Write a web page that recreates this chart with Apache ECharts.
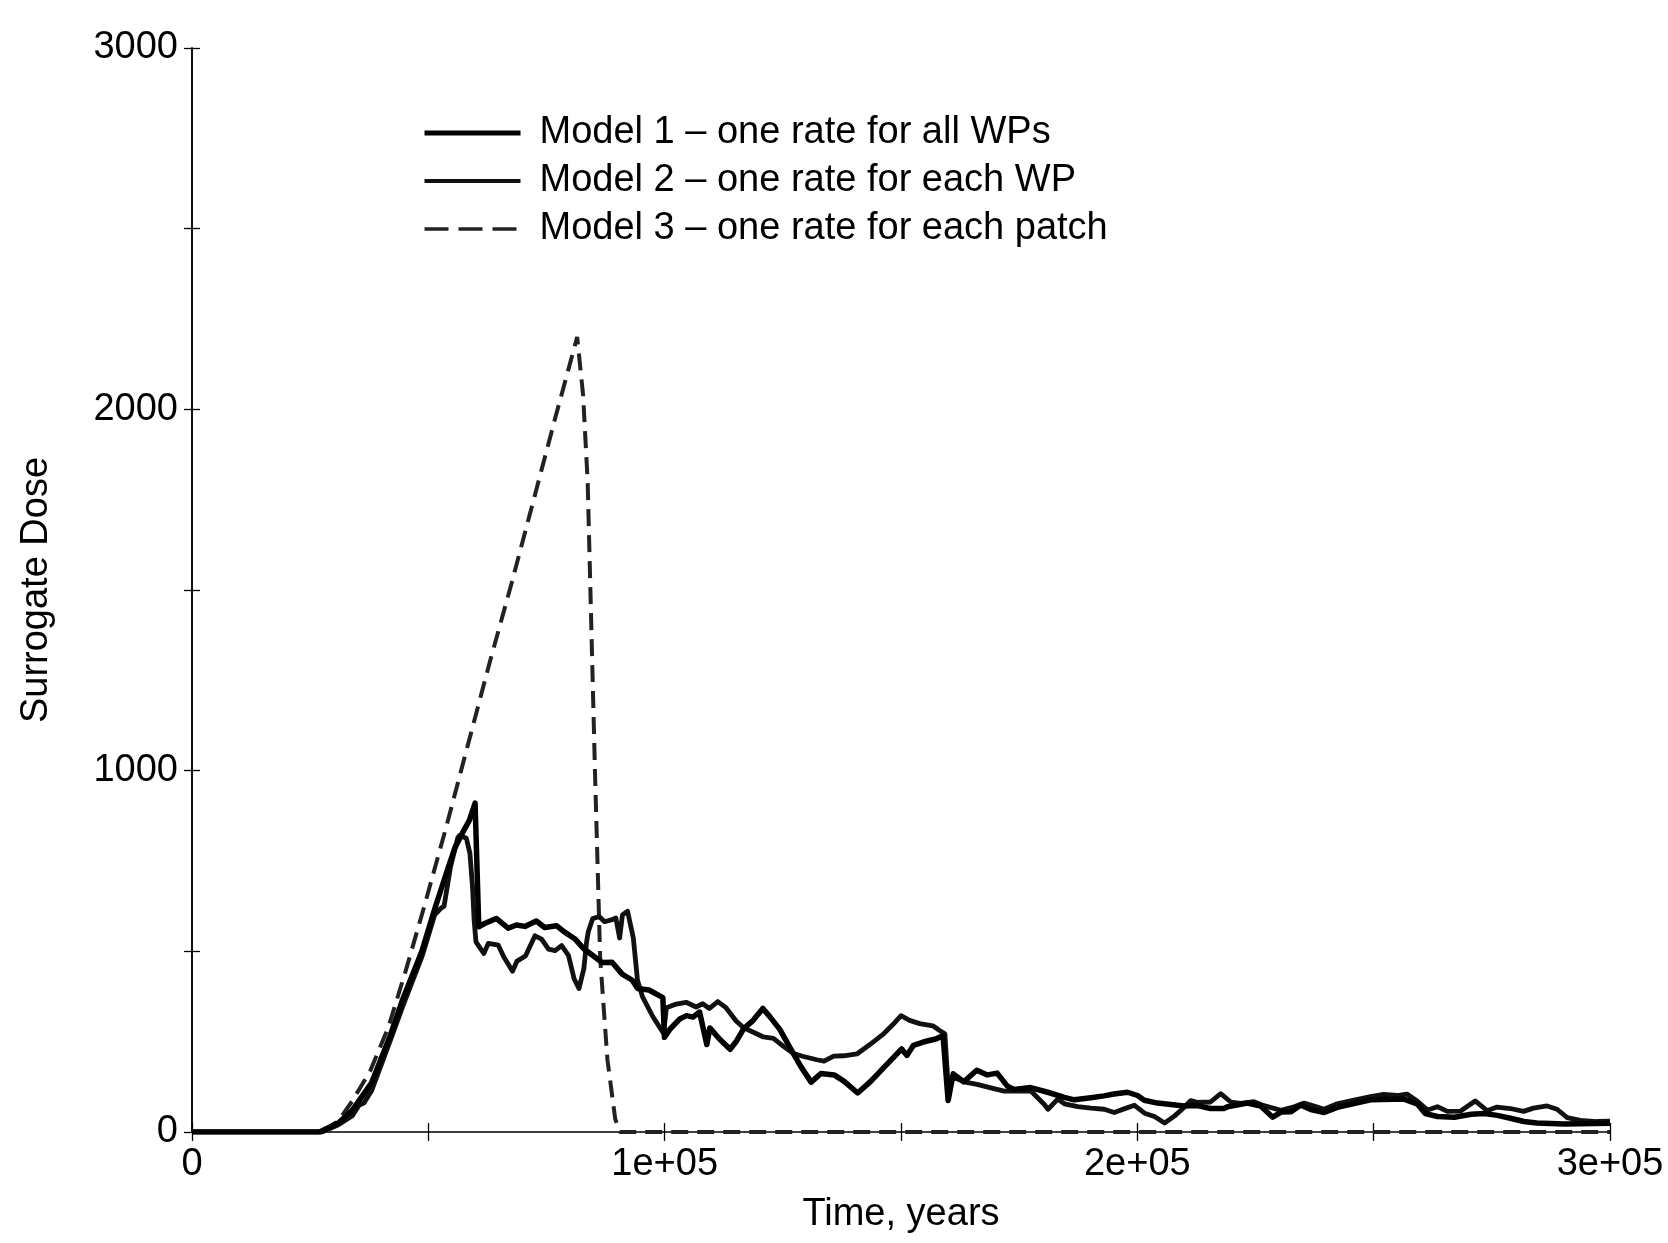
<!DOCTYPE html>
<html>
<head>
<meta charset="utf-8">
<script src="https://cdn.jsdelivr.net/npm/echarts@6/dist/echarts.min.js"></script>
<style>
html,body{margin:0;padding:0;background:#fff;}
#chart{width:1668px;height:1243px;}
</style>
</head>
<body>
<div id="chart"></div>
<script>
// ---- data (time in years, surrogate dose) ----
const seriesNames = [
  'Model 1 \u2013 one rate for all WPs',
  'Model 2 \u2013 one rate for each WP',
  'Model 3 \u2013 one rate for each patch'
];

const model1 = [
  [0,0],[25000,0],[27000,0],[30960,25],[33910,60],[37990,136],[41980,268],[44630,369],
  [48630,500],[51300,615],[53980,723],[55580,785],[57310,830],[58660,862],[59890,910],
  [60670,568],[61910,577],[64380,591],[66880,564],[68610,573],[70420,569],[72840,584],
  [74620,566],[77110,571],[78840,553],[80970,535],[82810,508],[86770,469],[88870,470],
  [91020,437],[93150,420],[94280,397],[96690,393],[99620,372],[99950,262],
  [101160,285],[103210,313],[104600,322],[106010,318],[107390,332],[108920,242],[109550,288],
  [111700,256],[113850,229],[115210,252],[116660,285],[118720,309],[120770,342],[122200,320],
  [124360,284],[126540,233],[128720,183],[130990,138],[133050,162],[135860,158],[137980,140],
  [140830,108],[143580,140],[147010,187],[150140,230],[151270,212],[152630,240],[154710,249],
  [157500,258],[158890,267],[159970,87],[161050,161],[163280,139],[166030,171],[168260,158],
  [170350,163],[172500,127],[173920,118],[177410,123],[181030,110],[184550,96],[186660,89],
  [190150,95],[192950,100],[195040,105],[197930,110],[200040,101],[201460,88],[204280,80],
  [207080,76],[209890,72],[212690,73],[215500,65],[218300,65],[219090,70],[223280,80],
  [226090,72],[228640,41],[230410,55],[232510,56],[234580,75],[236700,62],[239520,54],
  [242290,68],[249360,89],[256460,91],[259280,77],[260920,51],[263530,43],[267040,41],
  [270620,49],[273420,51],[276130,46],[278940,38],[281760,29],[284560,25],[290270,22],[300000,24]
];

const model2 = [
  [0,0],[25000,0],[27500,0],[30970,20],[33930,45],[35380,75],[36380,80],[38020,115],[42000,255],
  [44660,350],[48650,485],[51320,600],[52740,620],[53330,625],[54670,732],[56240,815],[56630,821],
  [58040,813],[58800,771],[59350,678],[59690,586],[60080,526],[61730,494],[62690,522],[64800,517],
  [65950,485],[67810,445],[68770,473],[70550,487],[72560,543],[73970,534],[75420,506],[76820,502],
  [78200,516],[79640,489],[80840,424],[81880,397],[82900,452],[83480,526],[83840,554],[84780,591],
  [86180,596],[87300,582],[88690,587],[89680,592],[90470,537],[91070,601],[92150,611],[93370,537],
  [94250,420],[95320,374],[97510,319],[99780,273],[100370,344],[102450,354],[104540,359],
  [106660,346],[108050,355],[109470,342],[111240,361],[112970,344],[115120,307],[116650,289],
  [118770,276],[120890,263],[123000,259],[125130,237],[127260,217],[129380,209],[132190,200],
  [133700,196],[135770,210],[137870,211],[140670,216],[143420,242],[146180,270],[148340,298],
  [150000,322],[151820,309],[153940,300],[156740,294],[158160,281],[159280,272],[160010,120],
  [161060,152],[163280,139],[166100,132],[169010,122],[171820,113],[177420,114],[180280,77],
  [181100,63],[183160,91],[184580,78],[187390,70],[190200,66],[193000,63],[195120,54],[197200,64],
  [199390,74],[201520,52],[203630,43],[205760,25],[207830,44],[209890,68],[211270,87],[212670,82],
  [215470,83],[217640,106],[219770,83],[221880,79],[224670,84],[226790,73],[230410,60],[233190,70],
  [235280,80],[237390,72],[239500,63],[242280,78],[245860,88],[249350,98],[252140,104],[254940,101],
  [257040,105],[259270,85],[261410,61],[263490,70],[265610,57],[268410,58],[271470,86],[274010,59],
  [276090,69],[278900,65],[281710,57],[283800,66],[286690,72],[288800,63],[290940,40],[293750,32],
  [297260,29],[300000,30]
];

const model3 = [
  [0,0],[25000,0],[27990,5],[30950,30],[33870,85],[37740,170],[41550,290],[45300,450],
  [49040,620],[53700,840],[58340,1070],[62990,1300],[67640,1520],[72290,1750],[76930,1980],
  [81490,2200],[82740,2040],[83710,1800],[85250,1000],[86360,480],[87890,200],[89540,36],
  [90500,0],[300000,0]
];

const xTickValues = [0, 100000, 200000, 300000];
const xTickTexts = ['0', '1e+05', '2e+05', '3e+05'];
const yTickValues = [0, 1000, 2000, 3000];
const axisTitles = { x: 'Time, years', y: 'Surrogate Dose' };

// ---- chart ----
const FONT = '"Liberation Sans", Arial, Helvetica, sans-serif';
const chart = echarts.init(document.getElementById('chart'), null, { renderer: 'canvas' });

const xFmt = v => { const i = xTickValues.indexOf(v); return i >= 0 ? xTickTexts[i] : ''; };
const yFmt = v => (yTickValues.indexOf(v) >= 0 ? String(v) : '');

const axisLineStyle = { color: '#000', width: 1.5 };
const tickStyle = { color: '#000', width: 1.3 };
const widths = [5.5, 4.8, 4];
const colors = ['#000', '#111', '#222'];

chart.setOption({
  animation: false,
  backgroundColor: '#fff',
  textStyle: { fontFamily: FONT, color: '#000' },
  grid: { left: 192, right: 58, top: 48, bottom: 111, containLabel: false },
  legend: {
    orient: 'vertical',
    left: 417,
    top: 105,
    itemWidth: 96,
    itemHeight: 14,
    itemGap: 2,
    itemStyle: { opacity: 0 },
    textStyle: { fontSize: 38, color: '#000', fontFamily: FONT, lineHeight: 46, padding: [0, 0, 0, 14] },
    data: [
      { name: seriesNames[0], lineStyle: { width: 5, color: colors[0] } },
      { name: seriesNames[1], lineStyle: { width: 4, color: colors[1] } },
      { name: seriesNames[2], lineStyle: { width: 3.5, color: colors[2], type: [24, 10] } }
    ]
  },
  xAxis: [
    {
      type: 'value', min: 0, max: 300000, interval: 50000,
      name: axisTitles.x, nameLocation: 'middle', nameGap: 64,
      nameTextStyle: { fontSize: 38, color: '#000', fontFamily: FONT },
      axisLine: { show: true, lineStyle: axisLineStyle },
      axisTick: { show: true, inside: true, length: 9, lineStyle: tickStyle },
      axisLabel: { formatter: xFmt, fontSize: 38, color: '#000', margin: 14, fontFamily: FONT, showMaxLabel: true, showMinLabel: true },
      splitLine: { show: false }
    },
    {
      type: 'value', position: 'top', min: 0, max: 300000, interval: 50000,
      axisLine: { show: false },
      axisTick: { show: true, inside: true, length: 9, lineStyle: tickStyle },
      axisLabel: { show: false },
      splitLine: { show: false }
    }
  ],
  yAxis: [
    {
      type: 'value', min: 0, max: 3000, interval: 500,
      name: axisTitles.y, nameLocation: 'middle', nameGap: 136, nameRotate: 90,
      nameTextStyle: { fontSize: 38, color: '#000', fontFamily: FONT },
      axisLine: { show: true, lineStyle: axisLineStyle },
      axisTick: { show: true, inside: true, length: 8, lineStyle: tickStyle },
      axisLabel: { formatter: yFmt, fontSize: 38, color: '#000', margin: 14, fontFamily: FONT },
      splitLine: { show: false }
    },
    {
      type: 'value', position: 'right', min: 0, max: 3000, interval: 500,
      axisLine: { show: true, lineStyle: axisLineStyle },
      axisTick: { show: true, inside: true, length: 8, lineStyle: tickStyle },
      axisLabel: { show: false },
      splitLine: { show: false }
    }
  ],
  series: [
    {
      name: seriesNames[0], type: 'line', data: model1, xAxisIndex: 0, yAxisIndex: 0,
      symbol: 'none', showSymbol: false, z: 4,
      lineStyle: { color: colors[0], width: widths[0], join: 'round' },
      itemStyle: { color: colors[0] }
    },
    {
      name: seriesNames[1], type: 'line', data: model2, xAxisIndex: 0, yAxisIndex: 0,
      symbol: 'none', showSymbol: false, z: 3,
      lineStyle: { color: colors[1], width: widths[1], join: 'round' },
      itemStyle: { color: colors[1] }
    },
    {
      name: seriesNames[2], type: 'line', data: model3, xAxisIndex: 0, yAxisIndex: 0,
      symbol: 'none', showSymbol: false, z: 2,
      lineStyle: { color: colors[2], width: widths[2], type: [17, 9] },
      itemStyle: { color: colors[2] }
    }
  ]
});
</script>
</body>
</html>
